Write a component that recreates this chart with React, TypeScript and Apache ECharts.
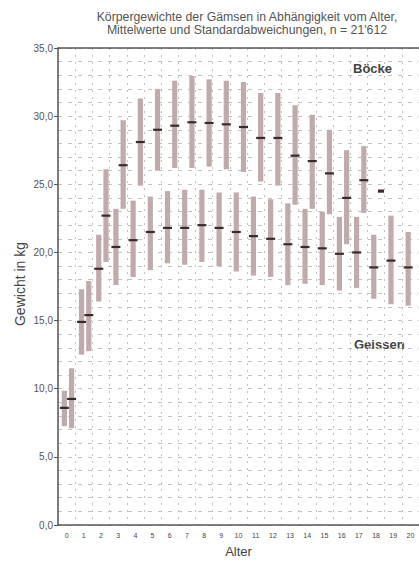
import { useEffect, useRef } from 'react';
import * as echarts from 'echarts';

const ages = ['0', '1', '2', '3', '4', '5', '6', '7', '8', '9', '10', '11', '12', '13', '14', '15', '16', '17', '18', '19', '20'];

// Geissen (females): mean, mean - sd, mean + sd
const geissenMean = [8.6, 14.9, 18.8, 20.4, 20.9, 21.5, 21.8, 21.8, 22.0, 21.8, 21.5, 21.2, 21.0, 20.6, 20.4, 20.3, 19.9, 20.0, 18.9, 19.4, 18.9];
const geissenLow = [7.25, 12.5, 16.4, 17.6, 18.2, 18.7, 19.2, 19.1, 19.3, 19.0, 18.6, 18.3, 18.2, 17.6, 17.7, 17.6, 17.2, 17.4, 16.6, 16.2, 16.1];
const geissenHigh = [9.85, 17.3, 21.3, 23.2, 23.8, 24.1, 24.5, 24.6, 24.6, 24.4, 24.4, 24.1, 23.9, 23.6, 23.2, 23.0, 22.6, 22.6, 21.3, 22.7, 21.5];

// Böcke (males): mean, mean - sd, mean + sd (age 18: a single value)
const boeckeMean = [9.25, 15.4, 22.7, 26.4, 28.1, 29.0, 29.3, 29.55, 29.5, 29.4, 29.2, 28.4, 28.4, 27.1, 26.7, 25.8, 24.0, 25.3, 24.5];
const boeckeLow = [7.1, 12.75, 19.3, 23.2, 24.9, 26.0, 26.2, 26.2, 26.3, 26.1, 25.9, 25.2, 24.9, 23.5, 23.2, 22.8, 20.6, 22.9, 24.5];
const boeckeHigh = [11.5, 17.9, 26.1, 29.7, 31.3, 32.0, 32.6, 32.95, 32.7, 32.6, 32.5, 31.7, 31.7, 30.8, 30.1, 29.0, 27.5, 27.8, 24.5];

const yTicks = [0, 5, 10, 15, 20, 25, 30, 35];

const BAR_COLOR = '#bfaaac';
const MEAN_COLOR = '#3a2b2b';
const GRID_COLOR = '#c2c2c2';
const FONT = '"Liberation Sans", Arial, sans-serif';

export default function App() {
  const ref = useRef<HTMLDivElement>(null);

  useEffect(() => {
    const chart = echarts.init(ref.current!, null, { renderer: 'svg' });

    const build = (low: number[], high: number[], mean: number[]) =>
      mean.map((m, i) => [i, low[i], high[i], m]);

    const makeRender = (offsetFrac: number) => (params: any, api: any) => {
      const idx = api.value(0);
      const bw = api.size([1, 0])[0];
      const cx = api.coord([idx, 0])[0] + bw * offsetFrac;
      const yLow = api.coord([idx, api.value(1)])[1];
      const yHigh = api.coord([idx, api.value(2)])[1];
      const yMean = api.coord([idx, api.value(3)])[1];
      const children: any[] = [];
      if (Math.abs(yLow - yHigh) > 0.5) {
        children.push({
          type: 'rect',
          shape: { x: cx - 2.6, y: yHigh, width: 5.2, height: yLow - yHigh },
          style: { fill: BAR_COLOR },
        });
        children.push({
          type: 'rect',
          shape: { x: cx - 4.5, y: yMean - 1.1, width: 9, height: 2.2 },
          style: { fill: MEAN_COLOR },
        });
      } else {
        children.push({
          type: 'rect',
          shape: { x: cx - 3, y: yMean - 1.6, width: 6, height: 3.2 },
          style: { fill: MEAN_COLOR },
        });
      }
      return { type: 'group', children };
    };

    chart.setOption({
      animation: false,
      backgroundColor: '#ffffff',
      title: {
        text: 'Körpergewichte der Gämsen in Abhängigkeit vom Alter,\nMittelwerte und Standardabweichungen, n = 21\'612',
        left: 242,
        top: 5,
        textAlign: 'center',
        textStyle: {
          fontFamily: FONT,
          fontSize: 12.3,
          fontWeight: 'normal',
          color: '#555',
          lineHeight: 13.5,
        },
      },
      grid: { left: 58, right: 0, top: 48, bottom: 32 },
      xAxis: [
        {
          type: 'category',
          data: ages,
          boundaryGap: true,
          name: 'Alter',
          nameLocation: 'middle',
          nameGap: 20,
          nameTextStyle: { fontFamily: FONT, fontSize: 13, color: '#444' },
          axisLine: { show: true, lineStyle: { color: '#555', width: 1.5 } },
          axisTick: { show: false },
          axisLabel: { fontFamily: FONT, fontSize: 7, color: '#444', margin: 7, interval: 0 },
          splitLine: { show: true, interval: 0, lineStyle: { color: GRID_COLOR, type: [2, 5], width: 1 } },
        },
        {
          type: 'category',
          data: ages,
          position: 'top',
          axisLine: { show: true, lineStyle: { color: '#555', width: 1.5 } },
          axisTick: { show: false },
          axisLabel: { show: false },
          splitLine: { show: false },
        },
      ],
      yAxis: {
        type: 'value',
        min: yTicks[0],
        max: yTicks[yTicks.length - 1],
        interval: 5,
        axisLine: { show: true, lineStyle: { color: '#555', width: 1.5 } },
        axisTick: { show: true, length: 4, lineStyle: { color: '#555' } },
        axisLabel: {
          fontFamily: FONT,
          fontSize: 10,
          color: '#555',
          margin: 5,
          formatter: (v: number) => v.toFixed(1).replace('.', ','),
        },
        minorTick: { show: false, splitNumber: 5 },
        splitLine: { show: true, lineStyle: { color: GRID_COLOR, type: [4, 6], width: 1 } },
        minorSplitLine: { show: true, lineStyle: { color: GRID_COLOR, type: [4, 6], width: 1 } },
      },
      graphic: [
        {
          type: 'text',
          x: 20,
          y: 284,
          rotation: Math.PI / 2,
          style: {
            text: 'Gewicht in kg',
            fontFamily: FONT,
            fontSize: 14,
            fill: '#444',
            align: 'center',
            verticalAlign: 'middle',
          },
        },
        {
          type: 'text',
          left: 353,
          top: 62,
          style: { text: 'Böcke', fontFamily: FONT, fontSize: 13, fontWeight: 'bold', fill: '#444' },
        },
        {
          type: 'text',
          left: 354,
          top: 338,
          style: { text: 'Geissen', fontFamily: FONT, fontSize: 13, fontWeight: 'bold', fill: '#444' },
        },
      ],
      series: [
        {
          name: 'Geissen',
          type: 'custom',
          renderItem: makeRender(-0.13),
          encode: { x: 0, y: [1, 2, 3] },
          data: build(geissenLow, geissenHigh, geissenMean),
          z: 3,
        },
        {
          name: 'Böcke',
          type: 'custom',
          renderItem: makeRender(0.29),
          encode: { x: 0, y: [1, 2, 3] },
          data: build(boeckeLow, boeckeHigh, boeckeMean),
          z: 2,
        },
      ],
    });

    return () => chart.dispose();
  }, []);

  return (
    <div
      ref={ref}
      style={{ position: 'fixed', left: 0, top: 0, width: 419, height: 563, background: '#fff' }}
    />
  );
}
